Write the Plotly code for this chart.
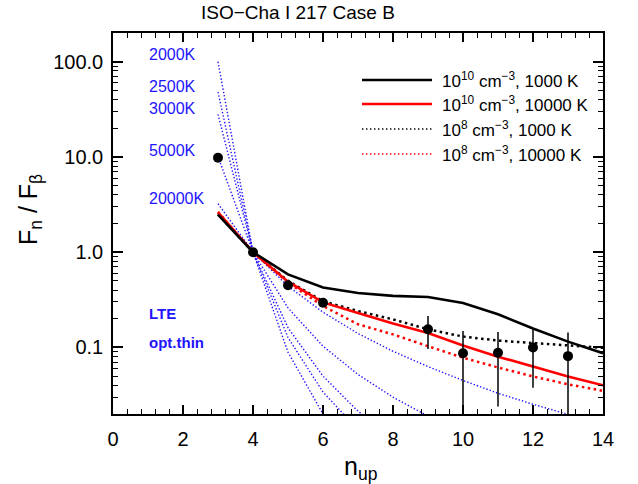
import plotly.graph_objects as go

# ---------------- data ----------------
n_up = [3, 4, 5, 6, 7, 8, 9, 10, 11, 12, 13, 14]

# models: density, temperature
m_1e10_1000 = [2.48, 1.0, 0.584, 0.425, 0.372, 0.348, 0.338, 0.292, 0.223, 0.158, 0.115, 0.087]
m_1e10_10000 = [2.62, 1.0, 0.49, 0.297, 0.230, 0.178, 0.142, 0.105, 0.080, 0.063, 0.0496, 0.040]
m_1e8_1000 = [2.50, 1.0, 0.50, 0.305, 0.241, 0.197, 0.155, 0.130, 0.118, 0.111, 0.104, 0.099]
m_1e8_10000 = [2.65, 1.0, 0.48, 0.272, 0.175, 0.137, 0.103, 0.078, 0.0616, 0.0496, 0.041, 0.035]

# LTE, optically thin curves
lte_labels = ["2000K", "2500K", "3000K", "5000K", "20000K"]
lte_n = {
    "2000K": [3, 4, 5, 6, 7, 8],
    "2500K": [3, 4, 5, 6, 7, 8],
    "3000K": [3, 4, 5, 6, 7, 8, 9],
    "5000K": [3, 4, 5, 6, 7, 8, 9, 10, 11],
    "20000K": [3, 4, 5, 6, 7, 8, 9, 10, 11, 12, 13, 14],
}
lte_vals = {
    "2000K": [100.0, 1.0, 0.089, 0.020, 0.0071, 0.0033],
    "2500K": [48.0, 1.0, 0.127, 0.034, 0.0137, 0.0068],
    "3000K": [28.0, 1.0, 0.161, 0.050, 0.0214, 0.0112, 0.0066],
    "5000K": [10.1, 1.0, 0.26, 0.103, 0.052, 0.030, 0.019, 0.0129, 0.0092],
    "20000K": [3.23, 1.0, 0.44, 0.234, 0.140, 0.091, 0.063, 0.045, 0.033, 0.0253, 0.0198, 0.0157],
}

# observed line ratios
obs_n = [3, 4, 5, 6, 9, 10, 11, 12, 13]
obs_val = [9.8, 1.0, 0.45, 0.295, 0.155, 0.087, 0.088, 0.100, 0.081]
obs_hi = [9.8, 1.0, 0.45, 0.295, 0.214, 0.149, 0.145, 0.155, 0.143]
obs_lo = [9.8, 1.0, 0.45, 0.295, 0.096, 0.0245, 0.024, 0.0377, 0.010]

legend_labels = [
    "10<sup>10</sup> cm<sup>\u22123</sup>, 1000 K",
    "10<sup>10</sup> cm<sup>\u22123</sup>, 10000 K",
    "10<sup>8</sup> cm<sup>\u22123</sup>, 1000 K",
    "10<sup>8</sup> cm<sup>\u22123</sup>, 10000 K",
]

y_tickvals = [0.1, 1, 10, 100]
y_ticktext = ["0.1", "1.0", "10.0", "100.0"]

# ---------------- layout geometry ----------------
W, H = 638, 484
L, R, T, B = 113, 35, 33, 70
PW, PH = W - L - R, H - T - B


def px(xp):
    return (xp - L) / PW


def py(yp):
    return (H - B - yp) / PH


FONT = "Liberation Sans, Arial, Helvetica, sans-serif"
BLUE = "rgb(35,20,255)"
THICK_DOT = "2.5px,3.5px"
FINE_DOT = "1.4px,2px"

fig = go.Figure()

for lab in lte_labels:
    fig.add_trace(go.Scatter(x=lte_n[lab], y=lte_vals[lab], mode="lines",
                             line=dict(color=BLUE, width=1.4, dash=FINE_DOT),
                             showlegend=False, hoverinfo="skip"))

fig.add_trace(go.Scatter(x=n_up, y=m_1e8_10000, mode="lines",
                         line=dict(color="red", width=2.5, dash=THICK_DOT), showlegend=False))
fig.add_trace(go.Scatter(x=n_up, y=m_1e8_1000, mode="lines",
                         line=dict(color="black", width=2.5, dash=THICK_DOT), showlegend=False))
fig.add_trace(go.Scatter(x=n_up, y=m_1e10_10000, mode="lines",
                         line=dict(color="red", width=2.6), showlegend=False))
fig.add_trace(go.Scatter(x=n_up, y=m_1e10_1000, mode="lines",
                         line=dict(color="black", width=2.6), showlegend=False))

fig.add_trace(go.Scatter(
    x=obs_n, y=obs_val, mode="markers",
    marker=dict(color="black", size=10),
    error_y=dict(type="data", symmetric=False,
                 array=[h - v for h, v in zip(obs_hi, obs_val)],
                 arrayminus=[v - l for v, l in zip(obs_val, obs_lo)],
                 color="black", thickness=1.5, width=0),
    showlegend=False))

# ---------------- manual legend ----------------
leg_rows = [80, 104, 129, 154]
leg_styles = [("black", 2.6, "solid"), ("red", 2.6, "solid"),
              ("black", 1.4, "1.4px,2.6px"), ("red", 1.4, "1.4px,2.6px")]
shapes = []
annotations = []
for yrow, (col, wd, ds), lab in zip(leg_rows, leg_styles, legend_labels):
    shapes.append(dict(type="line", xref="paper", yref="paper",
                       x0=px(362), x1=px(432), y0=py(yrow), y1=py(yrow),
                       line=dict(color=col, width=wd, dash=ds)))
    annotations.append(dict(xref="paper", yref="paper", x=px(440), y=py(yrow),
                            xanchor="left", yanchor="middle", showarrow=False,
                            text=lab, font=dict(family=FONT, size=17, color="black")))

# temperature labels
temp_rows = [55, 87, 108, 150, 198]
for lab, yrow in zip(lte_labels, temp_rows):
    annotations.append(dict(xref="paper", yref="paper", x=px(147), y=py(yrow),
                            xanchor="left", yanchor="middle", showarrow=False,
                            text=lab, font=dict(family=FONT, size=16, color=BLUE)))
annotations.append(dict(xref="paper", yref="paper", x=px(147), y=py(313),
                        xanchor="left", yanchor="middle", showarrow=False,
                        text="<b>LTE</b>", font=dict(family=FONT, size=15, color=BLUE)))
annotations.append(dict(xref="paper", yref="paper", x=px(147), y=py(342),
                        xanchor="left", yanchor="middle", showarrow=False,
                        text="<b>opt.thin</b>", font=dict(family=FONT, size=15, color=BLUE)))

# title and axis titles
annotations.append(dict(xref="paper", yref="paper", x=px(298), y=py(12),
                        xanchor="center", yanchor="middle", showarrow=False,
                        text="ISO\u2212Cha I 217 Case B",
                        font=dict(family=FONT, size=19, color="black")))
annotations.append(dict(xref="paper", yref="paper", x=px(360), y=py(468),
                        xanchor="center", yanchor="middle", showarrow=False,
                        text="n<sub>up</sub>",
                        font=dict(family=FONT, size=25, color="black")))
annotations.append(dict(xref="paper", yref="paper", x=px(30), y=py(210),
                        xanchor="center", yanchor="middle", showarrow=False, textangle=-90,
                        text="F<sub>n</sub> / F<sub>\u03b2</sub>",
                        font=dict(family=FONT, size=25, color="black")))

y_minor = []
for dec in [0.01, 0.1, 1, 10, 100]:
    for k in range(2, 10):
        v = k * dec
        if 0.02 <= v <= 200:
            y_minor.append(v)

fig.update_layout(
    width=W, height=H,
    margin=dict(l=L, r=R, t=T, b=B),
    paper_bgcolor="white", plot_bgcolor="white",
    font=dict(family=FONT, color="black"),
    shapes=shapes, annotations=annotations,
    showlegend=False,
)
fig.update_xaxes(range=[0, 14], tick0=0, dtick=2, ticks="inside", ticklen=9,
                 tickwidth=1.5, tickcolor="black",
                 minor=dict(dtick=0.4, tick0=0, ticks="inside", ticklen=5,
                            tickwidth=1.2, tickcolor="black", showgrid=False),
                 showline=True, linecolor="black", linewidth=1.5, mirror="allticks",
                 showgrid=False, zeroline=False,
                 tickfont=dict(family=FONT, size=20, color="black"),
                 ticklabelstandoff=6)
fig.update_yaxes(type="log", range=[-1.699, 2.301],
                 tickmode="array", tickvals=y_tickvals, ticktext=y_ticktext,
                 ticks="inside", ticklen=10, tickwidth=1.5, tickcolor="black",
                 minor=dict(tickmode="array", tickvals=y_minor, ticks="inside", ticklen=5,
                            tickwidth=1.2, tickcolor="black", showgrid=False),
                 showline=True, linecolor="black", linewidth=1.5, mirror="allticks",
                 showgrid=False, zeroline=False,
                 tickfont=dict(family=FONT, size=20, color="black"),
                 ticklabelstandoff=4)

fig.write_html("out.html")
